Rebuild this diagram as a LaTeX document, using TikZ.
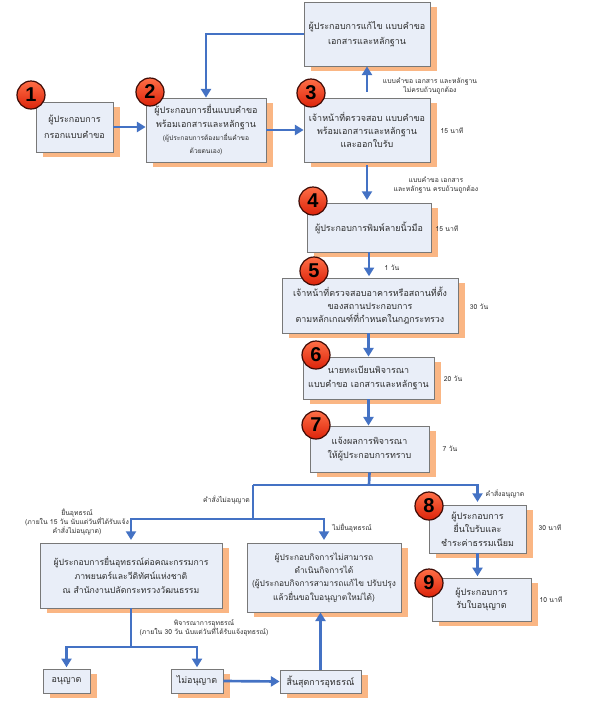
\documentclass[tikz,border=0pt]{standalone}
\usepackage{fontspec}
\setmainfont{Loma}[Script=Thai]
\newfontfamily\numfont{Liberation Sans}
\usetikzlibrary{arrows.meta,shadows}
\definecolor{boxfill}{RGB}{233,238,248}
\definecolor{boxdraw}{RGB}{120,120,120}
\definecolor{shadoworange}{RGB}{250,182,132}
\definecolor{arrowblue}{RGB}{68,114,196}
\definecolor{txt}{RGB}{45,45,45}
\definecolor{badgetop}{RGB}{255,110,70}
\definecolor{badgebot}{RGB}{220,35,10}
\definecolor{badgeedge}{RGB}{60,10,5}
\tikzset{
 box/.style={draw=boxdraw, line width=0.6pt, fill=boxfill, align=center, inner sep=1pt, text=txt,
   font=\fontsize{6.7}{10}\selectfont,
   drop shadow={shadow xshift=5.25pt, shadow yshift=-4pt, fill=shadoworange, opacity=1}},
 conn/.style={draw=arrowblue, line width=2pt},
 arr/.style={conn, -{Triangle[length=6.5pt,width=7.5pt]}},
 lbl/.style={align=center, text=txt, font=\fontsize{5.1}{7}\selectfont, inner sep=0pt},
 badge/.style={circle, minimum size=21pt, inner sep=0pt, draw=badgeedge, line width=0.9pt,
   top color=badgetop, bottom color=badgebot, shading angle=0, text=black,
   font=\numfont\bfseries\fontsize{15}{15}\selectfont},
 smalltext/.style={font=\fontsize{5}{8}\selectfont}
}
\begin{document}
\begin{tikzpicture}[x=0.75pt,y=-0.75pt]
\fill[white] (0,0) rectangle (592,701);
\useasboundingbox (0,0) rectangle (592,701);

% boxes
\node[box, minimum width=57.75pt, minimum height=37.5pt, font=\fontsize{6.7}{12}\selectfont] (b1) at (74.5,127) {ผู้ประกอบการ\\กรอกแบบคำขอ};
\node[box, minimum width=90pt, minimum height=48pt] (b2) at (206,130) {ผู้ประกอบการยื่นแบบคำขอ\\พร้อมเอกสารและหลักฐาน\\{\fontsize{5}{8}\selectfont (ผู้ประกอบการต้องมายื่นคำขอ}\\{\fontsize{5}{8}\selectfont ด้วยตนเอง)}};
\node[box, minimum width=94.5pt, minimum height=48pt, font=\fontsize{6.7}{11.5}\selectfont] (bt) at (367,34) {ผู้ประกอบการแก้ไข แบบคำขอ\\เอกสารและหลักฐาน};
\node[box, minimum width=94.5pt, minimum height=48pt] (b3) at (367,130) {เจ้าหน้าที่ตรวจสอบ แบบคำขอ\\พร้อมเอกสารและหลักฐาน\\และออกใบรับ};
\node[box, minimum width=93pt, minimum height=36.75pt] (b4) at (369,227.5) {ผู้ประกอบการพิมพ์ลายนิ้วมือ};
\node[box, minimum width=132pt, minimum height=41.25pt] (b5) at (370,305.5) {เจ้าหน้าที่ตรวจสอบอาคารหรือสถานที่ตั้ง\\ของสถานประกอบการ\\ตามหลักเกณฑ์ที่กำหนดในกฎกระทรวง};
\node[box, minimum width=98.25pt, minimum height=31.5pt] (b6) at (368.5,378) {นายทะเบียนพิจารณา\\แบบคำขอ เอกสารและหลักฐาน};
\node[box, minimum width=89.25pt, minimum height=34.5pt] (b7) at (369.5,449) {แจ้งผลการพิจารณา\\ให้ผู้ประกอบการทราบ};
\node[box, minimum width=72.75pt, minimum height=36pt] (b8) at (477.5,529) {ผู้ประกอบการ\\ยื่นใบรับและ\\ชำระค่าธรรมเนียม};
\node[box, minimum width=74.25pt, minimum height=32.25pt] (b9) at (481.5,599.5) {ผู้ประกอบการ\\รับใบอนุญาต};
\node[box, minimum width=136.5pt, minimum height=48.75pt, font=\fontsize{6.5}{10.5}\selectfont] (bap) at (131,575.5) {ผู้ประกอบการยื่นอุทธรณ์ต่อคณะกรรมการ\\ภาพยนตร์และวีดิทัศน์แห่งชาติ\\ณ สำนักงานปลัดกระทรวงวัฒนธรรม};
\node[box, minimum width=115.5pt, minimum height=51.75pt, font=\fontsize{6.3}{10}\selectfont] (bna) at (324,577.5) {ผู้ประกอบกิจการไม่สามารถ\\ดำเนินกิจการได้\\(ผู้ประกอบกิจการสามารถแก้ไข ปรับปรุง\\แล้วยื่นขอใบอนุญาตใหม่ได้)};
\node[box, minimum width=35.25pt, minimum height=18pt] (ba) at (66.5,681) {อนุญาต};
\node[box, minimum width=39pt, minimum height=18pt] (bn) at (197,681) {ไม่อนุญาต};
\node[box, minimum width=60.75pt, minimum height=17.25pt] (be) at (320.5,681.5) {สิ้นสุดการอุทธรณ์};

% badges
\node[badge] (n1) at (31,95) {1};
\node[badge] (n2) at (150,92) {2};
\node[badge] (n3) at (311,93) {3};
\node[badge] (n4) at (313,201) {4};
\node[badge] (n5) at (314,271) {5};
\node[badge] (n6) at (316,355) {6};
\node[badge] (n7) at (316,425) {7};
\node[badge] (n8) at (429,506) {8};
\node[badge] (n9) at (429,583) {9};

% connectors
\coordinate (j1) at (369,485);
\coordinate (jl) at (253,485);
\coordinate (j2) at (253,519);
\coordinate (j3) at (131,647);

\draw[arr] (b1.east) -- (b1.east -| b2.west);
\draw[arr] (b2.east) -- (b2.east -| b3.west);
\draw[arr, shorten <=4.5pt] (b3.north) -- (bt.south);
\draw[arr] (bt.west) -| (b2.north);
\draw[arr, shorten <=2pt, shorten >=2pt] (b3.south) -- (b3.south |- b4.north);
\draw[arr, shorten >=1pt] (b4.south) -- (b4.south |- b5.north);
\draw[arr] (b5.south -| b6.north) -- (b6.north);
\draw[arr] (b6.south) -- (b6.south |- b7.north);
\draw[conn] (b7.south) -- (j1);
\draw[arr, shorten >=2pt] (jl) -| (b8.north);
\draw[conn] (jl) -- (j2);
\draw[arr, shorten >=2pt] (j2) -| (bap.north);
\draw[arr, shorten >=2pt] (j2) -| (bna.north);
\draw[arr, shorten >=1pt] (b8.south) -- (b8.south |- b9.north);
\draw[conn] (bap.south) -- (j3);
\draw[arr, shorten >=1pt] (j3) -| (ba.north);
\draw[arr, shorten >=1pt] (j3) -| (bn.north);
\draw[arr] (bn.east) -- (be.west);
\draw[arr] (be.north) -- (be.north |- bna.south);

% labels
\node[lbl] (l1) at (430,86) {แบบคำขอ เอกสาร และหลักฐาน\\ไม่ครบถ้วนถูกต้อง};
\node[lbl] (l2) at (452,131) {15 นาที};
\node[lbl] (l3) at (436,185) {แบบคำขอ เอกสาร\\และหลักฐาน ครบถ้วนถูกต้อง};
\node[lbl] (l4) at (447,229) {15 นาที};
\node[lbl] (l5) at (392,268) {1 วัน};
\node[lbl] (l6) at (479,307) {30 วัน};
\node[lbl] (l7) at (453,379) {20 วัน};
\node[lbl] (l8) at (450,449) {7 วัน};
\node[lbl, anchor=east] (l9) at (250,500) {คำสั่งไม่อนุญาต};
\node[lbl] (l10) at (505,494) {คำสั่งอนุญาต};
\node[lbl] (l11) at (77,522) {ยื่นอุทธรณ์\\(ภายใน 15 วัน นับแต่วันที่ได้รับแจ้ง\\คำสั่งไม่อนุญาต)};
\node[lbl] (l12) at (352,528) {ไม่ยื่นอุทธรณ์};
\node[lbl] (l13) at (550,528) {30 นาที};
\node[lbl] (l14) at (551,600) {10 นาที};
\node[lbl] (l15) at (204,628) {พิจารณาการอุทธรณ์\\(ภายใน 30 วัน นับแต่วันที่ได้รับแจ้งอุทธรณ์)};
\end{tikzpicture}
\end{document}
